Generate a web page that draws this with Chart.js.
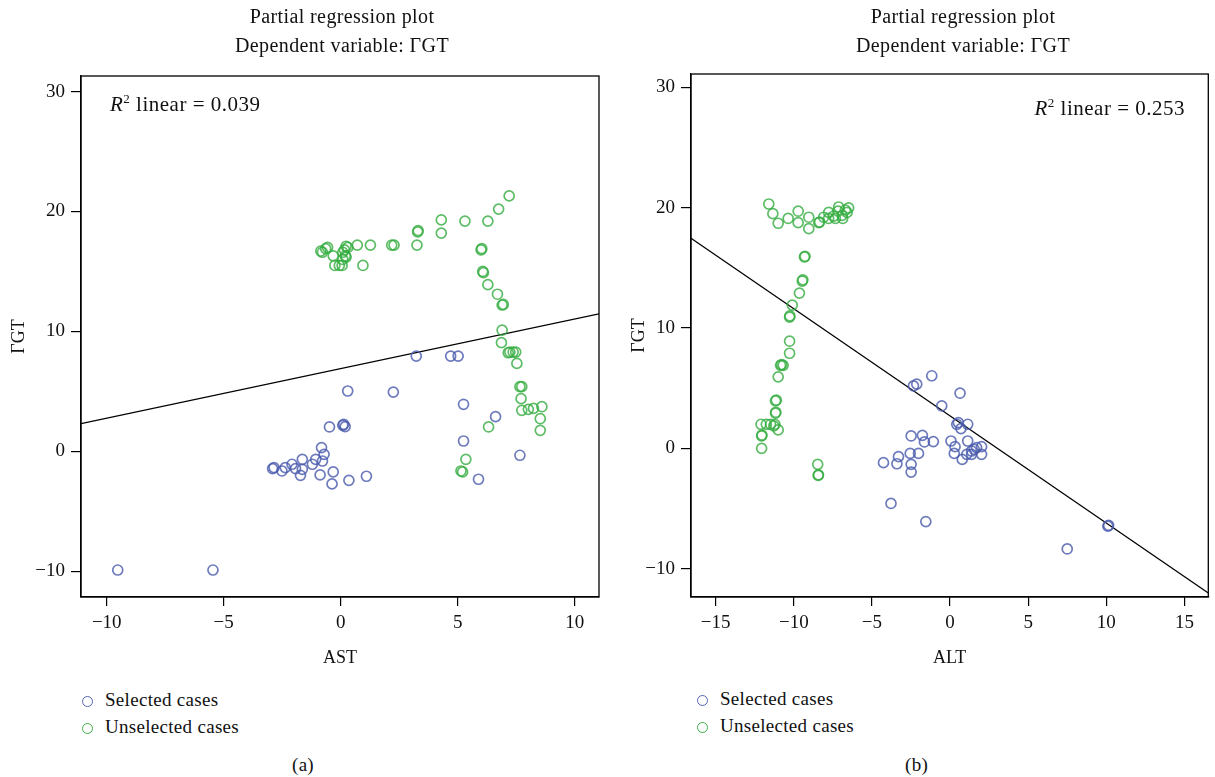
<!DOCTYPE html>
<html>
<head>
<meta charset="utf-8">
<script src="https://cdn.jsdelivr.net/npm/chart.js@4"></script>
<style>
  body { margin: 0; background: #fff; font-family: 'Liberation Serif', 'DejaVu Serif', serif; color: #111; }
  #wrap { position: relative; width: 1215px; height: 777px; overflow: hidden; }
  canvas { position: absolute; top: 0; }
  .txt { position: absolute; font-size: 19px; line-height: 22px; white-space: nowrap; letter-spacing: 0.3px; }
  .ttl { font-size: 20px; letter-spacing: 0.4px; }
  .r2 { font-size: 21px; letter-spacing: 0.5px; }
  .ctr { text-align: center; width: 400px; }
  .leg span.dot { display: inline-block; width: 9px; height: 9px; border-radius: 50%; border: 1.5px solid; margin-right: 12px; vertical-align: -1px; }
</style>
</head>
<body>
<div id="wrap">
  <canvas id="chartA" width="610" height="672" style="left:0"></canvas>
  <canvas id="chartB" width="595" height="672" style="left:620px"></canvas>

  <div class="txt ttl ctr" style="left:142px; top:5px">Partial regression plot</div>
  <div class="txt ttl ctr" style="left:142px; top:34px">Dependent variable: ΓGT</div>
  <div class="txt ttl ctr" style="left:763px; top:5px">Partial regression plot</div>
  <div class="txt ttl ctr" style="left:763px; top:34px">Dependent variable: ΓGT</div>

  <div class="txt r2" style="left:110px; top:88px"><i>R</i><sup style="font-size:13px">2</sup> linear = 0.039</div>
  <div class="txt r2" style="right:30px; top:92px"><i>R</i><sup style="font-size:13px">2</sup> linear = 0.253</div>

  <div class="txt leg" style="left:82px; top:689px"><span class="dot" style="border-color:#5464b4"></span>Selected cases</div>
  <div class="txt leg" style="left:82px; top:716px"><span class="dot" style="border-color:#3fb04a"></span>Unselected cases</div>
  <div class="txt leg" style="left:697px; top:688px"><span class="dot" style="border-color:#5464b4"></span>Selected cases</div>
  <div class="txt leg" style="left:697px; top:715px"><span class="dot" style="border-color:#3fb04a"></span>Unselected cases</div>

  <div class="txt" style="left:292px; top:754px">(a)</div>
  <div class="txt" style="left:905px; top:754px">(b)</div>
</div>
<script>
// Panel (a): AST
const astSelX = [-9.53, -5.46, 3.23, 4.70, 5.02, 0.30, 2.25, 5.25, 6.62, 5.25, 7.66, 5.89,
  -0.48, 0.13, 0.19, 0.09, -0.82, -0.71, -0.78, -1.07, -1.21, -1.64, -1.64, -2.08, -1.93,
  -2.37, -2.51, -2.91, -2.85, -1.72, -0.88, -0.32, -0.37, 0.35, 1.10];
const astSelY = [-9.9, -9.9, 7.94, 7.94, 7.94, 5.03, 4.94, 3.92, 2.89, 0.86, -0.33, -2.33,
  2.03, 2.25, 2.06, 2.17, 0.31, -0.25, -0.81, -0.67, -1.08, -0.67, -1.5, -1.08, -1.44,
  -1.36, -1.64, -1.44, -1.36, -2.0, -1.97, -1.72, -2.72, -2.42, -2.08];
const astUnselX = [6.9, 6.87, 7.23, 7.37, 7.48, 7.16, 7.53, 7.66, 7.74, 7.71, 7.74, 8.02, 8.24, 8.6,
  8.53, 8.53, 6.32, 5.35, 5.14, 5.21, 7.2, 6.75, 6.29, 5.31, 4.3, 4.3, 3.29, 3.31, 3.26, 2.18,
  2.28, 1.27, 0.71, 0.23, 0.30, 0.16, 0.09, 0.2, 0.23, 0.09, -0.85, -0.78, -0.56, -0.64, -0.32,
  -0.25, -0.06, 0.06, 0.95, 6.0, 6.03, 6.1, 6.07, 6.29, 6.7, 6.9, 6.95];
const astUnselY = [10.1, 9.06, 8.28, 8.28, 8.28, 8.22, 7.33, 5.39, 5.39, 4.39, 3.42, 3.5, 3.58, 3.72,
  2.72, 1.75, 2.03, -0.67, -1.64, -1.72, 21.3, 20.2, 19.2, 19.2, 19.3, 18.2, 18.3, 18.4, 17.2, 17.2,
  17.2, 17.2, 17.2, 17.1, 17.0, 16.8, 16.6, 16.3, 16.2, 16.0, 16.7, 16.6, 17.0, 16.9, 16.3,
  15.5, 15.5, 15.5, 15.5, 16.8, 16.9, 14.9, 15.0, 13.9, 13.1, 12.2, 12.25];
const astFit = { intercept: 6.9, slope: 0.413 };

// Panel (b): ALT
const altSelX = [-4.26, -3.4, -3.3, -2.55, -2.49, -2.49, -2.49, -2.34, -2.13, -1.17, 0.64, -0.53,
  0.43, 0.53, 0.70, 1.13, -1.77, -1.64, -1.07, -2.02, 0.06, 0.32, 0.27, 0.78, 1.13, 1.07, 1.38,
  1.55, 1.7, 2.02, 2.02, 1.38, -3.78, -1.55, 10.1, 10.15, 7.5];
const altSelY = [-1.19, -1.28, -0.69, -0.42, -1.33, -1.97, 1.03, 5.19, 5.33, 6.03, 4.58, 3.53,
  2.0, 2.14, 1.64, 2.0, 1.08, 0.53, 0.56, -0.42, 0.61, 0.14, -0.42, -0.92, 0.61, -0.5, -0.5,
  -0.08, 0.06, 0.14, -0.5, -0.22, -4.58, -6.08, -6.47, -6.4, -8.36];
const altUnselX = [-9.46, -9.42, -9.64, -10.1, -10.27, -10.25, -10.27, -10.27, -10.85, -10.68, -10.78,
  -11.0, -11.17, -11.12, -11.17, -11.15, -12.1, -11.76, -11.49, -11.21, -11.28, -11.0, -12.06, -12.04,
  -12.06, -8.47, -8.44, -8.42, -11.6, -11.34, -11.0, -10.36, -9.72, -9.72, -9.04, -9.04, -8.4, -8.35,
  -8.09, -7.77, -7.77, -7.45, -7.17, -7.13, -6.91, -6.87, -6.7, -6.49, -6.59, -7.34, -9.32, -9.28];
const altUnselY = [13.9, 14.0, 12.9, 11.9, 10.9, 11.0, 8.9, 7.9, 6.9, 6.9, 6.95,
  5.94, 3.94, 4.0, 2.92, 3.0, 2.0, 2.0, 2.0, 2.0, 1.86, 1.53, 1.03, 1.1,
  0, -1.33, -2.25, -2.2, 20.3, 19.5, 18.7, 19.1, 19.7, 18.75, 19.2, 18.25, 18.75, 18.8,
  19.2, 19.6, 19.1, 19.3, 19.7, 20.05, 19.36, 19.1, 19.8, 19.97, 19.6, 19.1, 15.9, 15.95];
const altFit = { intercept: 2.7, slope: -0.89 };

// Tick labels
const xTicksA = [-10, -5, 0, 5, 10];
const xTicksB = [-15, -10, -5, 0, 5, 10, 15];
const yTicks = [-10, 0, 10, 20, 30];

const FONT = "'Liberation Serif', 'DejaVu Serif', serif";
const BLUE = 'rgba(72, 90, 172, 0.8)';
const GREEN = 'rgba(52, 172, 64, 0.8)';

function toPoints(xs, ys) {
  return xs.map((x, i) => ({ x: x, y: ys[i] }));
}

// Rahmen rund um die Plotfläche
const boxPlugin = {
  id: 'box',
  afterDraw(chart) {
    const a = chart.chartArea, c = chart.ctx;
    c.save();
    c.strokeStyle = '#000';
    c.lineWidth = 1.3;
    c.strokeRect(a.left, a.top, a.right - a.left, a.bottom - a.top);
    c.restore();
  }
};

function makeChart(id, opt) {
  const fitLine = [
    { x: opt.xMin, y: opt.fit.intercept + opt.fit.slope * opt.xMin },
    { x: opt.xMax, y: opt.fit.intercept + opt.fit.slope * opt.xMax }
  ];
  const pointStyle = color => ({
    backgroundColor: 'rgba(0,0,0,0)',
    borderColor: color,
    pointRadius: 5,
    pointBorderWidth: 1.7
  });
  const tickFmt = v => String(v).replace('-', '\u2212');

  return new Chart(document.getElementById(id), {
    type: 'scatter',
    data: {
      datasets: [
        Object.assign({ label: 'Selected cases', data: toPoints(opt.selX, opt.selY) }, pointStyle(BLUE)),
        Object.assign({ label: 'Unselected cases', data: toPoints(opt.unselX, opt.unselY) }, pointStyle(GREEN)),
        {
          type: 'line', label: 'fit', data: fitLine,
          borderColor: '#000', borderWidth: 1.3, pointRadius: 0, fill: false
        }
      ]
    },
    options: {
      responsive: false,
      animation: false,
      devicePixelRatio: 1,
      layout: { padding: { top: opt.top, right: opt.right, left: 0, bottom: 0 } },
      plugins: { legend: { display: false }, tooltip: { enabled: false } },
      scales: {
        x: {
          type: 'linear', min: opt.xMin, max: opt.xMax,
          afterBuildTicks: s => { s.ticks = opt.xTicks.map(v => ({ value: v })); },
          afterFit: s => { s.height = 75; },
          grid: { drawOnChartArea: false, drawTicks: true, tickLength: 9, color: '#000', lineWidth: 1.2 },
          border: { color: '#000', width: 1.3 },
          ticks: { color: '#111', padding: 6, font: { family: FONT, size: 19 }, callback: tickFmt, maxRotation: 0 },
          title: { display: true, text: opt.xTitle, color: '#111', font: { family: FONT, size: 18 }, padding: { top: 2, bottom: 3 } }
        },
        y: {
          type: 'linear', min: opt.yMin, max: opt.yMax,
          afterBuildTicks: s => { s.ticks = yTicks.map(v => ({ value: v })); },
          afterFit: s => { s.width = opt.yWidth; },
          grid: { drawOnChartArea: false, drawTicks: true, tickLength: 10, color: '#000', lineWidth: 1.2 },
          border: { color: '#000', width: 1.3 },
          ticks: { color: '#111', padding: 6, font: { family: FONT, size: 19 }, callback: tickFmt },
          title: { display: true, text: 'ΓGT', color: '#111', font: { family: FONT, size: 18 }, padding: { top: 8, bottom: 0 } }
        }
      }
    },
    plugins: [boxPlugin]
  });
}

makeChart('chartA', {
  selX: astSelX, selY: astSelY, unselX: astUnselX, unselY: astUnselY, fit: astFit,
  xMin: -11.1, xMax: 11.04, yMin: -12.15, yMax: 31.3, xTicks: xTicksA,
  xTitle: 'AST', top: 76, right: 11, yWidth: 81
});

makeChart('chartB', {
  selX: altSelX, selY: altSelY, unselX: altUnselX, unselY: altUnselY, fit: altFit,
  xMin: -16.58, xMax: 16.53, yMin: -12.35, yMax: 31.1, xTicks: xTicksB,
  xTitle: 'ALT', top: 74, right: 3, yWidth: 71
});
</script>
</body>
</html>
